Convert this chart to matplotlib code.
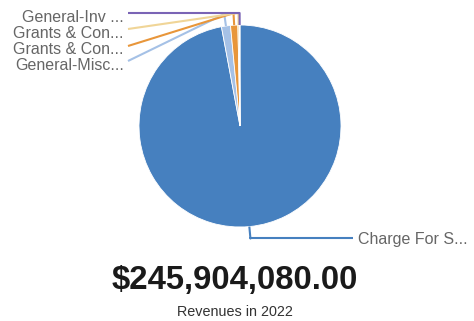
import numpy as np
import matplotlib
matplotlib.use("Agg")
import matplotlib.pyplot as plt

plt.rcParams['font.family'] = ['Liberation Sans', 'DejaVu Sans']

categories = ["Charge For S...", "General-Misc...", "Grants & Con...", "Grants & Con...", "General-Inv ..."]
values = [238664080, 3550000, 2870000, 550000, 270000]
colors = ["#4680bf", "#a5c1e6", "#e8963a", "#f0d597", "#7a64b5"]
total_text = "$245,904,080.00"
subtitle = "Revenues in 2022"

W, H = 474, 321
fig = plt.figure(figsize=(W / 100, H / 100), dpi=100)
ax = fig.add_axes([0, 0, 1, 1])

cx, cy, r = 240, 126, 101
# y axis runs downward, so a data-counterclockwise sweep reads clockwise on screen
ax.pie(values, colors=colors, center=(cx, cy), radius=r, startangle=-90,
       counterclock=True, wedgeprops=dict(edgecolor='white', linewidth=0.6),
       frame=True)
ax.set_xlim(0, W)
ax.set_ylim(H, 0)
ax.set_aspect('equal')
ax.axis('off')

# connector end (x, y) and text side for each label
label_pos = [
    (353, 238, 'left'),
    (128, 61, 'right'),
    (128, 46, 'right'),
    (128, 29, 'right'),
    (128, 13, 'right'),
]

fractions = np.array(values) / np.sum(values)
start = 0.0
for i, frac in enumerate(fractions):
    mid = (start + frac / 2) * 2 * np.pi  # clockwise from top
    start += frac
    ex, ey = cx + r * np.sin(mid), cy - r * np.cos(mid)
    bx, by = cx + (r + 12) * np.sin(mid), cy - (r + 12) * np.cos(mid)
    lx, ly, ha = label_pos[i]
    if i == 0:
        pts_x = [ex, bx, bx, lx]
        pts_y = [ey, by, ly, ly]
        tx, ty = lx + 5, ly + 6
    else:
        pts_x = [ex, bx, lx]
        pts_y = [ey, by, ly]
        tx, ty = lx - 4, ly + 8.5
    ax.plot(pts_x, pts_y, color=colors[i], lw=1.5, solid_capstyle='butt')
    ax.text(tx, ty, categories[i], ha=ha, va='baseline', fontsize=11.5,
            color='#666666')

ax.text(235, 289, total_text, ha='center', va='baseline', fontsize=23.7,
        fontweight='bold', color='#1a1a1a')
ax.text(235, 316, subtitle, ha='center', va='baseline', fontsize=10.4,
        color='#333333')

fig.savefig("out.png", dpi=100)
